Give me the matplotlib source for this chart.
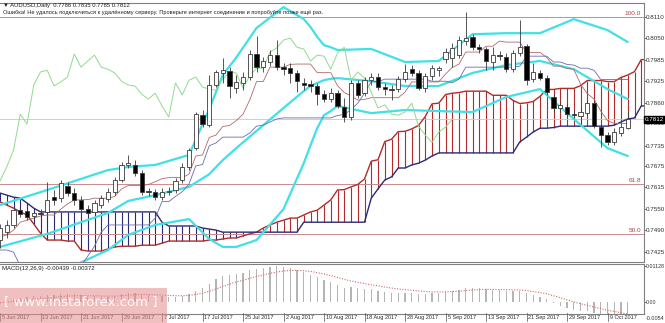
import matplotlib.pyplot as plt
import numpy as np
import pandas as pd
from matplotlib.patches import Rectangle
from matplotlib.lines import Line2D

# daily bars 5 Jun 2017 .. 12 Oct 2017
dates = pd.bdate_range('2017-06-05', '2017-10-12')

opens = [0.7460, 0.7483, 0.7504, 0.7547, 0.7545, 0.7530, 0.7539, 0.7542, 0.7585, 0.7583,
         0.7617, 0.7597, 0.7577, 0.7550, 0.7542, 0.7562, 0.7580, 0.7600, 0.7635, 0.7679,
         0.7679, 0.7655, 0.7603, 0.7600, 0.7585, 0.7600, 0.7606, 0.7635, 0.7673, 0.7728,
         0.7824, 0.7795, 0.7912, 0.7947, 0.7953, 0.7903, 0.7918, 0.7935, 0.8002, 0.7964,
         0.7979, 0.7999, 0.7964, 0.7961, 0.7947, 0.7918, 0.7915, 0.7909, 0.7885, 0.7871,
         0.7888, 0.7848, 0.7819, 0.7918, 0.7888, 0.7926, 0.7935, 0.7906, 0.7900, 0.7900,
         0.7929, 0.7958, 0.7947, 0.7903, 0.7938, 0.7955, 0.7988, 0.7990, 0.7999, 0.8040,
         0.8052, 0.8022, 0.8017, 0.7979, 0.7999, 0.7993, 0.7958, 0.8005, 0.8025, 0.7929,
         0.7947, 0.7932, 0.7877, 0.7845, 0.7848, 0.7827, 0.7821, 0.7830, 0.7859, 0.7789,
         0.7766, 0.7745, 0.7772, 0.7786]
highs = [0.7507, 0.7518, 0.7556, 0.7556, 0.7553, 0.7547, 0.7550, 0.7629, 0.7606, 0.7635,
         0.7629, 0.7612, 0.7588, 0.7562, 0.7577, 0.7591, 0.7612, 0.7644, 0.7687, 0.7708,
         0.7693, 0.7664, 0.7612, 0.7608, 0.7612, 0.7615, 0.7641, 0.7684, 0.7728, 0.7833,
         0.7839, 0.7941, 0.7955, 0.7990, 0.7964, 0.7941, 0.7950, 0.8014, 0.8055, 0.7993,
         0.8014, 0.8043, 0.7976, 0.7976, 0.7955, 0.7932, 0.7926, 0.7918, 0.7897, 0.7903,
         0.7897, 0.7874, 0.7926, 0.7926, 0.7935, 0.7947, 0.7947, 0.7918, 0.7912, 0.7938,
         0.7973, 0.7970, 0.7955, 0.7947, 0.7970, 0.7967, 0.8020, 0.8034, 0.8055, 0.8125,
         0.8060, 0.8031, 0.8022, 0.8022, 0.8011, 0.8005, 0.8014, 0.8101, 0.8031, 0.7976,
         0.7955, 0.7941, 0.7885, 0.7862, 0.7856, 0.7839, 0.7845, 0.7868, 0.7868, 0.7798,
         0.7775, 0.7786, 0.7801, 0.7835]
lows = [0.7437, 0.7466, 0.7495, 0.7527, 0.7518, 0.7521, 0.7530, 0.7536, 0.7562, 0.7571,
        0.7588, 0.7562, 0.7542, 0.7530, 0.7536, 0.7553, 0.7571, 0.7591, 0.7629, 0.7670,
        0.7647, 0.7591, 0.7588, 0.7577, 0.7577, 0.7591, 0.7597, 0.7626, 0.7664, 0.7722,
        0.7789, 0.7789, 0.7906, 0.7918, 0.7874, 0.7888, 0.7897, 0.7926, 0.7950, 0.7950,
        0.7967, 0.7955, 0.7941, 0.7918, 0.7891, 0.7897, 0.7891, 0.7854, 0.7862, 0.7862,
        0.7845, 0.7804, 0.7810, 0.7874, 0.7880, 0.7912, 0.7897, 0.7883, 0.7868, 0.7891,
        0.7921, 0.7938, 0.7897, 0.7891, 0.7926, 0.7938, 0.7976, 0.7964, 0.7990, 0.8028,
        0.8014, 0.8005, 0.7955, 0.7955, 0.7985, 0.7950, 0.7950, 0.7996, 0.7912, 0.7921,
        0.7926, 0.7883, 0.7833, 0.7833, 0.7819, 0.7816, 0.7798, 0.7824, 0.7786, 0.7730,
        0.7736, 0.7736, 0.7763, 0.7785]
closes = [0.7495, 0.7504, 0.7547, 0.7536, 0.7527, 0.7539, 0.7536, 0.7577, 0.7577, 0.7626,
          0.7597, 0.7577, 0.7550, 0.7539, 0.7568, 0.7583, 0.7600, 0.7635, 0.7679, 0.7684,
          0.7655, 0.7600, 0.7600, 0.7585, 0.7600, 0.7603, 0.7632, 0.7673, 0.7722, 0.7827,
          0.7798, 0.7912, 0.7950, 0.7955, 0.7909, 0.7921, 0.7935, 0.8002, 0.7964, 0.7982,
          0.7999, 0.7964, 0.7958, 0.7947, 0.7923, 0.7912, 0.7909, 0.7885, 0.7871, 0.7888,
          0.7851, 0.7819, 0.7918, 0.7883, 0.7926, 0.7935, 0.7906, 0.7900, 0.7897, 0.7929,
          0.7950, 0.7947, 0.7903, 0.7938, 0.7961, 0.7961, 0.8008, 0.8020, 0.8043, 0.8049,
          0.8022, 0.8017, 0.7982, 0.7999, 0.7996, 0.7958, 0.8005, 0.8022, 0.7926, 0.7950,
          0.7932, 0.7891, 0.7845, 0.7854, 0.7827, 0.7824, 0.7833, 0.7859, 0.7792, 0.7766,
          0.7745, 0.7775, 0.7789, 0.7812]

tenkan = [0.7469, 0.7475, 0.7489, 0.7512, 0.7518, 0.7524, 0.7530, 0.7533, 0.7533, 0.7550,
          0.7565, 0.7577, 0.7577, 0.7578, 0.7582, 0.7582, 0.7582, 0.7587, 0.7609, 0.7619,
          0.7619, 0.7619, 0.7622, 0.7630, 0.7639, 0.7642, 0.7642, 0.7642, 0.7652, 0.7705,
          0.7708, 0.7759, 0.7766, 0.7791, 0.7794, 0.7808, 0.7827, 0.7868, 0.7922, 0.7922,
          0.7964, 0.7964, 0.7964, 0.7972, 0.7973, 0.7973, 0.7973, 0.7948, 0.7948, 0.7948,
          0.7910, 0.7890, 0.7880, 0.7868, 0.7870, 0.7875, 0.7875, 0.7875, 0.7875, 0.7875,
          0.7891, 0.7921, 0.7921, 0.7921, 0.7921, 0.7921, 0.7944, 0.7963, 0.7973, 0.8008,
          0.8008, 0.8008, 0.8025, 0.8025, 0.8040, 0.8037, 0.8037, 0.8037, 0.8007, 0.8007,
          0.8007, 0.7992, 0.7967, 0.7967, 0.7960, 0.7958, 0.7915, 0.7887, 0.7871, 0.7836,
          0.7808, 0.7800, 0.7800, 0.7800]
kijun = [0.7431, 0.7431, 0.7425, 0.7384, 0.7384, 0.7384, 0.7384, 0.7384, 0.7384, 0.7384,
         0.7384, 0.7384, 0.7384, 0.7413, 0.7442, 0.7483, 0.7504, 0.7504, 0.7504, 0.7504,
         0.7504, 0.7504, 0.7504, 0.7524, 0.7572, 0.7572, 0.7587, 0.7601, 0.7623, 0.7676,
         0.7680, 0.7735, 0.7743, 0.7760, 0.7760, 0.7760, 0.7760, 0.7772, 0.7792, 0.7795,
         0.7804, 0.7813, 0.7816, 0.7816, 0.7816, 0.7816, 0.7816, 0.7816, 0.7816, 0.7816,
         0.7823, 0.7826, 0.7840, 0.7859, 0.7888, 0.7922, 0.7922, 0.7929, 0.7929, 0.7929,
         0.7929, 0.7929, 0.7929, 0.7929, 0.7923, 0.7923, 0.7923, 0.7919, 0.7929, 0.7964,
         0.7964, 0.7964, 0.7964, 0.7964, 0.7964, 0.7964, 0.7964, 0.7967, 0.7996, 0.7996,
         0.7996, 0.7996, 0.7979, 0.7979, 0.7972, 0.7970, 0.7961, 0.7961, 0.7955, 0.7928,
         0.7928, 0.7928, 0.7928, 0.7928]
# cloud runs a little past the last bar
span_a = [0.7571, 0.7562, 0.7553, 0.7542, 0.7533, 0.7507, 0.7480, 0.7460, 0.7460, 0.7460,
          0.7457, 0.7457, 0.7431, 0.7428, 0.7428, 0.7428, 0.7434, 0.7440, 0.7442, 0.7442,
          0.7442, 0.7445, 0.7445, 0.7445, 0.7451, 0.7457, 0.7457, 0.7457, 0.7457, 0.7457,
          0.7457, 0.7460, 0.7460, 0.7463, 0.7466, 0.7466, 0.7472, 0.7478, 0.7483, 0.7495,
          0.7504, 0.7512, 0.7518, 0.7524, 0.7524, 0.7533, 0.7542, 0.7547, 0.7562, 0.7577,
          0.7606, 0.7607, 0.7615, 0.7622, 0.7638, 0.7690, 0.7694, 0.7747, 0.7754, 0.7776,
          0.7777, 0.7784, 0.7794, 0.7820, 0.7857, 0.7859, 0.7884, 0.7888, 0.7890, 0.7894,
          0.7894, 0.7894, 0.7894, 0.7882, 0.7882, 0.7882, 0.7867, 0.7858, 0.7860, 0.7864,
          0.7879, 0.7899, 0.7899, 0.7902, 0.7902, 0.7902, 0.7910, 0.7925, 0.7925, 0.7925,
          0.7922, 0.7922, 0.7934, 0.7941, 0.7951, 0.7986, 0.7986]
span_b = [0.7597, 0.7591, 0.7585, 0.7582, 0.7568, 0.7553, 0.7542, 0.7542, 0.7542, 0.7542,
          0.7542, 0.7542, 0.7542, 0.7542, 0.7542, 0.7542, 0.7542, 0.7542, 0.7542, 0.7542,
          0.7542, 0.7542, 0.7542, 0.7542, 0.7512, 0.7501, 0.7501, 0.7501, 0.7501, 0.7501,
          0.7495, 0.7492, 0.7489, 0.7483, 0.7483, 0.7483, 0.7483, 0.7483, 0.7483, 0.7483,
          0.7483, 0.7483, 0.7483, 0.7483, 0.7483, 0.7512, 0.7512, 0.7512, 0.7512, 0.7512,
          0.7512, 0.7512, 0.7512, 0.7512, 0.7512, 0.7582, 0.7609, 0.7635, 0.7644, 0.7670,
          0.7670, 0.7679, 0.7684, 0.7693, 0.7705, 0.7714, 0.7714, 0.7714, 0.7714, 0.7714,
          0.7714, 0.7714, 0.7714, 0.7714, 0.7714, 0.7714, 0.7714, 0.7746, 0.7760, 0.7775,
          0.7786, 0.7786, 0.7788, 0.7792, 0.7792, 0.7792, 0.7792, 0.7792, 0.7792, 0.7792,
          0.7792, 0.7795, 0.7804, 0.7813, 0.7816, 0.7851, 0.7851]

# Bollinger bands, read at a set of bars
bb_idx = [0, 7, 16, 19, 23, 28, 31, 33, 35, 38, 42, 45, 46, 47, 48, 49, 50, 55, 60, 65,
          70, 75, 80, 85, 90, 93]
bb_upper = [0.7562, 0.7606, 0.7664, 0.7673, 0.7679, 0.7708, 0.7842, 0.7941, 0.7992, 0.8078,
            0.8139, 0.8104, 0.8081, 0.8052, 0.8028, 0.8022, 0.8014, 0.8017, 0.7979, 0.7982,
            0.8060, 0.8063, 0.8063, 0.8104, 0.8072, 0.8037]
bb_mid = [0.7440, 0.7478, 0.7539, 0.7574, 0.7591, 0.7615, 0.7652, 0.7693, 0.7728, 0.7778,
          0.7845, 0.7894, 0.7909, 0.7918, 0.7926, 0.7930, 0.7932, 0.7923, 0.7909, 0.7909,
          0.7947, 0.7970, 0.7982, 0.7958, 0.7900, 0.7871]
bb_lower = [0.7314, 0.7349, 0.7431, 0.7475, 0.7504, 0.7521, 0.7463, 0.7440, 0.7440, 0.7460,
            0.7550, 0.7684, 0.7736, 0.7786, 0.7824, 0.7836, 0.7851, 0.7830, 0.7839, 0.7836,
            0.7833, 0.7877, 0.7900, 0.7813, 0.7728, 0.7705]

macd = [0.0002, 0.0006, 0.0011, 0.0014, 0.0016, 0.0018, 0.0019, 0.0022, 0.0023, 0.0026,
        0.0026, 0.0025, 0.0022, 0.0019, 0.0018, 0.0017, 0.0017, 0.0019, 0.0024, 0.0028,
        0.0029, 0.0026, 0.0023, 0.0020, 0.0018, 0.0017, 0.0017, 0.0020, 0.0026, 0.0036,
        0.0045, 0.0058, 0.0071, 0.0081, 0.0086, 0.0089, 0.0092, 0.0099, 0.0104, 0.0107,
        0.0110, 0.01128, 0.0110, 0.0106, 0.0100, 0.0093, 0.0086, 0.0078, 0.0070, 0.0064,
        0.0055, 0.0045, 0.0046, 0.0043, 0.0042, 0.0040, 0.0036, 0.0032, 0.0029, 0.0028,
        0.0029, 0.0029, 0.0026, 0.0026, 0.0028, 0.0029, 0.0032, 0.0035, 0.0039, 0.0043,
        0.0044, 0.0043, 0.0040, 0.0039, 0.0037, 0.0034, 0.0034, 0.0036, 0.0028, 0.0022,
        0.0017, 0.0009, -0.0002, -0.0011, -0.0018, -0.0024, -0.0028, -0.0029, -0.0034, -0.0039,
        -0.0043, -0.0045, -0.0045, -0.00439]
signal = [-0.0002, 0.0000, 0.0002, 0.0005, 0.0007, 0.0009, 0.0011, 0.0013, 0.0015, 0.0017,
          0.0019, 0.0020, 0.0020, 0.0020, 0.0020, 0.0019, 0.0019, 0.0019, 0.0020, 0.0022,
          0.0023, 0.0024, 0.0024, 0.0023, 0.0022, 0.0021, 0.0020, 0.0020, 0.0021, 0.0024,
          0.0028, 0.0034, 0.0041, 0.0049, 0.0056, 0.0063, 0.0068, 0.0074, 0.0080, 0.0085,
          0.0090, 0.0094, 0.0097, 0.0099, 0.0099, 0.0098, 0.0096, 0.0092, 0.0088, 0.0083,
          0.0077, 0.0071, 0.0066, 0.0062, 0.0058, 0.0054, 0.0051, 0.0047, 0.0044, 0.0041,
          0.0039, 0.0037, 0.0035, 0.0033, 0.0032, 0.0032, 0.0032, 0.0033, 0.0034, 0.0036,
          0.0038, 0.0039, 0.0040, 0.0040, 0.0039, 0.0039, 0.0038, 0.0038, 0.0036, 0.0033,
          0.0030, 0.0026, 0.0020, 0.0014, 0.0007, 0.0001, -0.0005, -0.0010, -0.0015, -0.0020,
          -0.0025, -0.0029, -0.0033, -0.00372]

fib_levels = [0.8110, 0.7624, 0.7479]
fib_names = ['100.0', '61.8', '50.0']
price_ticks = [0.8110, 0.8050, 0.7985, 0.7925, 0.7860, 0.7800, 0.7735, 0.7675, 0.7615,
               0.7550, 0.7490, 0.7425]
last_price = 0.7812

small = ['Liberation Sans', 'DejaVu Sans']

W, H = 665, 323
BAR = 6.75  # pixels per bar
fig = plt.figure(figsize=(W / 100, H / 100), dpi=100)
ax = fig.add_axes([0, 61 / H, 644 / W, 259 / H])
mx = fig.add_axes([0, 9 / H, 644 / W, 50 / H], sharex=ax)

n = len(closes)
x = np.arange(n)
red = '#b22a2a'
navy = '#2a2a7a'

# kumo with vertical hatching
xc = np.arange(len(span_a))
for i in xc:
    a, b = span_a[i], span_b[i]
    ax.vlines(i, min(a, b), max(a, b), color=red if a >= b else navy, lw=0.8, zorder=1)
ax.plot(xc, span_a, color=red, lw=1.0, zorder=2)
ax.plot(xc, span_b, color=navy, lw=1.0, zorder=2)

# horizontal levels
for lv, nm in zip(fib_levels, fib_names):
    ax.axhline(lv, color='#c98b8b', lw=0.7, zorder=1)
    ax.text(641 / BAR, lv + 0.0002, nm, color='#b04040', fontsize=4.6, family=small,
            ha='right', va='bottom')
ax.axhline(last_price, color='#c8c8c8', lw=0.6, zorder=1)

# bollinger
for band in (bb_upper, bb_mid, bb_lower):
    ax.plot(bb_idx, band, color='#3fe0e6', lw=1.6, zorder=3, solid_capstyle='round')

# ichimoku lines
ax.plot(x, tenkan, color='#b06a6a', lw=0.6, zorder=3)
ax.plot(x, kijun, color='#6a6ab0', lw=0.6, zorder=3)
ax.plot(x[:-26], closes[26:], color='#8fdc8f', lw=0.7, zorder=3)

# candles
for i in x:
    o, h, l, c = opens[i], highs[i], lows[i], closes[i]
    ax.vlines(i, l, h, color='#3a3a3a', lw=0.6, zorder=4)
    ax.add_patch(Rectangle((i - 0.3, min(o, c)), 0.6, max(abs(c - o), 0.00006),
                           facecolor='white' if c >= o else 'black',
                           edgecolor='#3a3a3a', lw=0.6, zorder=5))

ax.set_xlim(0, 644 / BAR)
ax.set_ylim(0.7396, 0.8151)
ax.yaxis.tick_right()
ax.set_yticks(price_ticks)
ax.set_yticklabels(['%.4f' % p for p in price_ticks], family=small)
ax.tick_params(axis='y', direction='out', length=1.2, pad=0.4, labelsize=4.5,
               colors='#303030', width=0.5)
ax.tick_params(axis='x', bottom=False, labelbottom=False)
ax.text(1.0015, last_price, '%.4f' % last_price, transform=ax.get_yaxis_transform(),
        fontsize=4.5, family=small, color='white', va='center', ha='left',
        bbox=dict(boxstyle='square,pad=0.2', fc='black', ec='black'))
for s in ax.spines.values():
    s.set_color('#808080')
    s.set_linewidth(0.8)
ax.spines['left'].set_visible(False)

fig.text(3 / W, 1 - 5 / H, '\u25bc AUDUSD,Daily  0.7786 0.7835 0.7785 0.7812',
         fontsize=4.2, family=small, va='center', ha='left', color='#202020')
fig.text(3 / W, 1 - 12 / H, 'Ошибка! Не удалось подключиться к удалённому серверу. '
         'Проверьте интернет соединение и попробуйте позже ещё раз.',
         fontsize=4.1, family=small, va='center', ha='left', color='#202020')

# MACD
mx.bar(x, macd, width=0.22, color='#b4b4b4', zorder=2)
mx.plot(x, signal, color='#d06a6a', lw=0.8, ls=(0, (1, 1.4)), zorder=3)
mx.set_ylim(-0.0037, 0.0119)
mx.yaxis.tick_right()
mx.set_yticks([0.01128, 0.0])
mx.set_yticklabels(['0.01128', '0.00'], family=small)
mx.tick_params(axis='y', direction='out', length=1.2, pad=0.3, labelsize=3.8,
               colors='#303030', width=0.5)
mx.tick_params(axis='x', bottom=False, labelbottom=False)
fig.text(645.5 / W, 5 / H, '-0.0054', fontsize=3.9, family=small, color='#303030',
         va='center', ha='left')
for s in mx.spines.values():
    s.set_color('#808080')
    s.set_linewidth(0.8)
mx.spines['left'].set_visible(False)
mx.text(0.003, 0.96, 'MACD(12,26,9) -0.00439 -0.00372', transform=mx.transAxes,
        fontsize=4.3, family=small, va='top', ha='left', color='#202020')

# date scale
for i, d in zip(x[::6], dates[::6]):
    px = i * BAR
    fig.lines.append(Line2D([px / W, px / W], [1 - 313 / H, 1 - 321 / H],
                            transform=fig.transFigure, color='#505050', lw=0.5))
    fig.text((px + 2) / W, 1 - 317.5 / H, d.strftime('%-d %b %Y'), fontsize=4.0,
             family=small, va='center', ha='left', color='#303030')

# watermark
fig.patches.append(Rectangle((0, 0), 167 / W, 35 / H, transform=fig.transFigure,
                             facecolor='#e58c8c', alpha=0.55, edgecolor='none', zorder=10))
fig.text(4 / W, 21 / H, '[ www.instaforex.com ]', fontsize=9.5, color='white',
         va='center', ha='left', zorder=11, alpha=0.9)

fig.savefig('out.png', dpi=100)
